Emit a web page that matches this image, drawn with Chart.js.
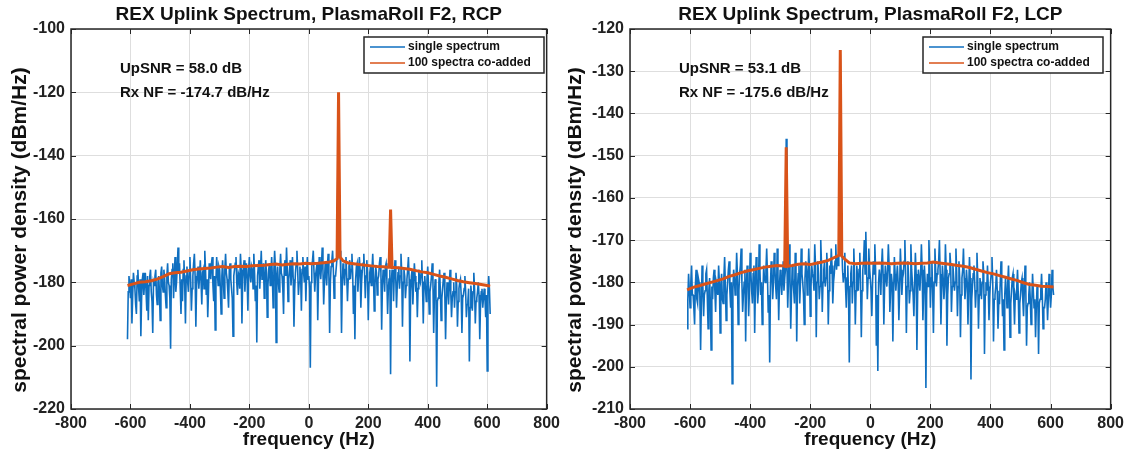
<!DOCTYPE html>
<html>
<head>
<meta charset="utf-8">
<script src="https://cdn.jsdelivr.net/npm/chart.js@4.4.0/dist/chart.umd.min.js"></script>
<style>
  html, body { margin: 0; padding: 0; background: #fff; }
  canvas { position: absolute; top: 0; }
  #rcp { left: 0; }
  #lcp { left: 568px; }
</style>
</head>
<body>
<canvas id="rcp" width="565" height="454" style="width:565px;height:454px"></canvas>
<canvas id="lcp" width="561" height="454" style="width:561px;height:454px"></canvas>
<script>
// single-spectrum bins: -610 Hz .. +610 Hz, 2.5 Hz apart
const binStart = -610;
const binStep = 2.5;

// RCP single spectrum (dBm/Hz), one row = 100 Hz
const rcpSingle = [
  -198, -183, -178, -181, -185, -179, -193, -184, -177, -180, -182, -187, -190, -178, -176, -182, -186, -179, -197, -185, -179, -177, -184, -180, -177, -183, -189, -178, -192, -181, -178, -176, -183, -186, -196, -180, -181, -178, -176, -184,
  -187, -180, -178, -183, -192, -177, -175, -181, -183, -176, -179, -184, -188, -178, -174, -180, -181, -185, -201, -179, -176, -174, -185, -178, -172, -183, -180, -175, -169, -177, -174, -182, -190, -179, -186, -176, -173, -181, -193, -178,
  -175, -180, -183, -177, -172, -179, -189, -182, -178, -174, -171, -178, -194, -181, -177, -175, -182, -178, -173, -180, -187, -177, -176, -182, -170, -176, -184, -179, -191, -183, -174, -177, -179, -174, -172, -181, -186, -178, -195, -180,
  -172, -177, -181, -175, -176, -182, -190, -178, -173, -180, -185, -176, -171, -177, -179, -183, -188, -176, -174, -179, -182, -185, -197, -178, -176, -174, -172, -180, -184, -177, -178, -182, -171, -176, -193, -179, -175, -173, -183, -177,
  -174, -179, -189, -176, -172, -178, -180, -175, -176, -182, -171, -177, -186, -181, -199, -178, -175, -173, -182, -176, -170, -179, -178, -174, -185, -180, -173, -177, -191, -181, -176, -174, -181, -177, -172, -179, -188, -176, -170, -175,
  -199, -178, -175, -180, -183, -176, -171, -177, -178, -182, -190, -175, -173, -178, -169, -176, -186, -179, -176, -173, -181, -177, -172, -179, -194, -182, -177, -174, -170, -176, -184, -180, -175, -178, -189, -176, -172, -177, -180, -175,
  -186, -177, -172, -179, -178, -182, -207, -180, -175, -173, -170, -177, -183, -178, -176, -174, -192, -179, -172, -176, -179, -175, -169, -176, -187, -180, -174, -177, -181, -175, -171, -178, -196, -180, -175, -173, -170, -176, -185, -178,
  -178, -175, -172, -172, -121, -171, -170, -177, -196, -180, -174, -177, -181, -176, -172, -178, -186, -179, -175, -173, -179, -176, -171, -177, -190, -181, -198, -179, -175, -174, -183, -178, -172, -176, -188, -180, -176, -174, -171, -177,
  -185, -178, -173, -177, -192, -180, -177, -175, -181, -176, -171, -178, -189, -181, -175, -177, -184, -179, -178, -174, -172, -177, -195, -181, -176, -178, -183, -175, -174, -179, -190, -182, -179, -176, -209, -180, -176, -178, -186, -177,
  -173, -179, -188, -181, -177, -175, -182, -178, -171, -177, -194, -180, -176, -178, -185, -181, -179, -176, -172, -179, -205, -183, -178, -176, -187, -180, -174, -178, -183, -180, -191, -182, -176, -179, -180, -177, -173, -181, -193, -180,
  -178, -182, -186, -179, -175, -181, -190, -183, -181, -178, -174, -180, -196, -184, -179, -182, -213, -186, -185, -180, -176, -183, -192, -185, -182, -179, -177, -184, -198, -186, -180, -182, -187, -181, -176, -183, -191, -185, -183, -180,
  -188, -183, -177, -181, -194, -186, -182, -180, -179, -184, -196, -185, -184, -182, -178, -183, -191, -187, -186, -182, -205, -188, -181, -184, -189, -183, -177, -182, -193, -186, -185, -183, -180, -184, -198, -187, -183, -182, -188, -185,
  -182, -185, -191, -184, -208, -183, -178, -182, -190
];

// LCP single spectrum (dBm/Hz)
const lcpSingle = [
  -191, -184, -178, -182, -186, -180, -176, -183, -183, -186, -190, -181, -177, -184, -185, -179, -180, -183, -196, -185, -176, -181, -188, -183, -182, -178, -177, -184, -191, -182, -179, -185, -196, -181, -184, -179, -177, -182, -187, -180,
  -181, -183, -176, -180, -192, -181, -178, -184, -185, -179, -174, -181, -189, -183, -180, -177, -175, -182, -186, -180, -204, -182, -177, -179, -183, -181, -173, -178, -190, -182, -178, -176, -172, -180, -187, -183, -180, -177, -194, -181,
  -176, -180, -188, -182, -173, -178, -182, -185, -178, -176, -192, -181, -174, -179, -185, -182, -171, -177, -183, -180, -190, -183, -176, -179, -180, -177, -172, -178, -187, -183, -199, -181, -175, -178, -184, -180, -173, -177, -181, -184,
  -172, -178, -189, -181, -177, -180, -183, -179, -175, -182, -179, -177, -146, -176, -186, -180, -171, -178, -191, -183, -176, -179, -182, -185, -173, -177, -194, -181, -178, -176, -185, -180, -172, -178, -180, -183, -190, -179, -175, -177,
  -183, -179, -172, -177, -188, -181, -176, -178, -179, -182, -171, -176, -193, -180, -175, -178, -184, -181, -170, -176, -187, -180, -177, -175, -181, -179, -173, -177, -190, -182, -176, -178, -172, -176, -185, -180, -178, -175, -171, -177,
  -174, -176, -172, -173, -126, -172, -171, -177, -180, -178, -173, -181, -186, -179, -176, -183, -199, -181, -178, -176, -185, -180, -172, -178, -190, -182, -176, -179, -182, -177, -173, -180, -193, -182, -177, -175, -170, -178, -168, -176,
  -184, -179, -172, -177, -179, -182, -188, -180, -175, -178, -171, -177, -195, -183, -201, -180, -177, -179, -183, -176, -172, -178, -190, -181, -176, -179, -181, -177, -171, -176, -187, -182, -178, -180, -194, -183, -174, -178, -182, -179,
  -176, -180, -189, -182, -172, -177, -183, -179, -178, -175, -170, -178, -192, -181, -175, -179, -185, -182, -171, -177, -180, -183, -188, -180, -173, -178, -196, -183, -177, -179, -182, -178, -171, -177, -189, -182, -176, -180, -205, -183,
  -178, -181, -170, -176, -186, -179, -175, -182, -192, -180, -172, -177, -181, -178, -177, -175, -170, -178, -190, -182, -176, -179, -184, -181, -171, -177, -195, -183, -179, -178, -173, -176, -187, -181, -176, -179, -182, -180, -172, -178,
  -188, -181, -175, -179, -193, -183, -179, -177, -172, -179, -184, -181, -177, -180, -190, -182, -174, -179, -203, -184, -181, -178, -176, -180, -186, -182, -173, -179, -191, -183, -179, -181, -184, -180, -175, -178, -197, -183, -180, -182,
  -176, -181, -189, -183, -180, -178, -174, -180, -194, -184, -183, -181, -177, -182, -191, -185, -185, -180, -175, -181, -188, -184, -196, -183, -179, -182, -186, -180, -176, -183, -193, -185, -182, -179, -178, -184, -190, -183, -184, -181,
  -177, -183, -192, -185, -183, -180, -179, -184, -188, -182, -176, -181, -195, -186, -185, -183, -180, -184, -190, -185, -178, -182, -186, -184, -193, -186, -181, -183, -197, -185, -184, -182, -178, -183, -191, -186, -186, -184, -180, -183,
  -189, -184, -178, -182, -186, -183, -177, -181, -183
];

// 100 spectra co-added
const rcpAvgFreq = [-610, -590, -570, -550, -530, -510, -490, -470, -450, -430, -410, -390, -370, -350, -330, -310, -290, -270, -250, -230,
  -210, -190, -170, -150, -130, -110, -90, -70, -50, -30, -10, 10, 30, 50, 70, 85, 95, 100, 105, 115,
  130, 150, 170, 190, 210, 230, 250, 265, 270, 275, 280, 285, 300, 320, 340, 360, 380, 400, 420, 440,
  460, 480, 500, 520, 540, 560, 580, 600, 610];
const rcpAvg = [-181, -180.5, -180, -179.8, -179.5, -179, -178.2, -177.3, -177, -176.8, -176.4, -176, -175.8, -175.6, -175.5, -175.2, -175, -175.3, -175, -174.9,
  -175, -174.8, -174.7, -174.6, -174.4, -174.2, -174.5, -174.3, -174.1, -174.2, -174, -174.1, -174, -173.8, -173.6, -173.2, -172.5, -120, -172, -173.2,
  -173.8, -174.1, -174.4, -174.6, -174.8, -175, -175.1, -175.2, -175.2, -157, -175.3, -175.3, -175.4, -175.6, -175.9, -176.3, -176.7, -177, -177.5, -178,
  -178.4, -178.9, -179.4, -179.8, -180.1, -180.4, -180.7, -181, -181.2];

const lcpAvgFreq = [-610, -590, -570, -550, -530, -510, -490, -470, -450, -430, -410, -390, -370, -350, -330, -310, -290, -285, -280, -275,
  -260, -240, -220, -200, -180, -160, -140, -125, -110, -105, -100, -95, -85, -70, -50, -30, -10, 10, 30, 50,
  70, 90, 110, 130, 150, 170, 190, 210, 230, 250, 270, 290, 310, 330, 350, 370, 390, 410, 430, 450,
  470, 490, 510, 530, 550, 570, 590, 610];
const lcpAvg = [-181.8, -181.2, -180.8, -180.4, -180, -179.6, -179.2, -178.6, -178.2, -177.7, -177.3, -177, -176.7, -176.4, -176.2, -176, -176.1, -176.2, -148, -176.2,
  -176, -175.7, -175.6, -175.8, -175.5, -175.2, -174.8, -174.3, -173.8, -173.6, -125, -173.8, -174.5, -175.4, -175.6, -175.5, -175.4, -175.5, -175.4, -175.5,
  -175.6, -175.5, -175.4, -175.5, -175.6, -175.5, -175.4, -175.2, -175.4, -175.6, -175.8, -176, -176.2, -176.5, -176.9, -177.3, -177.7, -178, -178.4, -178.8,
  -179.2, -179.6, -180.1, -180.5, -180.7, -180.9, -181, -181.1];

const xTicks = [-800, -600, -400, -200, 0, 200, 400, 600, 800];
const rcpYTicks = [-220, -200, -180, -160, -140, -120, -100];
const lcpYTicks = [-210, -200, -190, -180, -170, -160, -150, -140, -130, -120];

const BLUE = '#0f6fc0';
const ORANGE = '#D95319';
const AXIS = '#262626';
const GRID = '#dedede';
const FONT = "'Liberation Sans', Arial, Helvetica, sans-serif";

function toPoints(xs, ys) {
  return ys.map((y, i) => ({ x: xs[i], y: y }));
}

function binPoints(ys) {
  return ys.map((y, i) => ({ x: binStart + i * binStep, y: y }));
}

function makePanel(id, opts) {
  const deco = {
    id: 'deco_' + id,
    afterDraw(chart) {
      const ctx = chart.ctx;
      const a = chart.chartArea;
      const xs = chart.scales.x;
      const ys = chart.scales.y;
      ctx.save();

      // box + inward ticks, matlab style
      ctx.strokeStyle = AXIS;
      ctx.lineWidth = 1.5;
      ctx.strokeRect(a.left, a.top, a.right - a.left, a.bottom - a.top);
      ctx.lineWidth = 1;
      ctx.beginPath();
      xTicks.forEach(v => {
        const px = Math.round(xs.getPixelForValue(v)) + 0.5;
        ctx.moveTo(px, a.bottom); ctx.lineTo(px, a.bottom - 5);
        ctx.moveTo(px, a.top); ctx.lineTo(px, a.top + 5);
      });
      opts.yTicks.forEach(v => {
        const py = Math.round(ys.getPixelForValue(v)) + 0.5;
        ctx.moveTo(a.left, py); ctx.lineTo(a.left + 5, py);
        ctx.moveTo(a.right, py); ctx.lineTo(a.right - 5, py);
      });
      ctx.stroke();

      const cx = (a.left + a.right) / 2;
      ctx.fillStyle = '#111';
      ctx.textAlign = 'center';
      ctx.textBaseline = 'middle';
      ctx.font = 'bold 19px ' + FONT;
      ctx.fillText(opts.title, cx, 15);
      ctx.fillText('frequency (Hz)', cx, 440);

      ctx.save();
      ctx.translate(opts.yLabelX, 230);
      ctx.rotate(-Math.PI / 2);
      ctx.textBaseline = 'alphabetic';
      ctx.font = 'bold 21px ' + FONT;
      ctx.fillText('spectral power density (dBm/Hz)', 0, 0);
      ctx.restore();

      // annotations
      ctx.textAlign = 'left';
      ctx.font = 'bold 15px ' + FONT;
      ctx.fillText(opts.snr, a.left + 49, 69);
      ctx.fillText(opts.nf, a.left + 49, 93);

      // legend
      const lx = a.left + 293, ly = 37, lw = 180, lh = 36;
      ctx.fillStyle = '#fff';
      ctx.fillRect(lx, ly, lw, lh);
      ctx.strokeStyle = AXIS;
      ctx.lineWidth = 1.5;
      ctx.strokeRect(lx, ly, lw, lh);
      ctx.lineWidth = 1.5;
      ctx.strokeStyle = BLUE;
      ctx.beginPath(); ctx.moveTo(lx + 6, ly + 10); ctx.lineTo(lx + 41, ly + 10); ctx.stroke();
      ctx.strokeStyle = ORANGE;
      ctx.beginPath(); ctx.moveTo(lx + 6, ly + 26); ctx.lineTo(lx + 41, ly + 26); ctx.stroke();
      ctx.fillStyle = '#111';
      ctx.font = 'bold 12px ' + FONT;
      ctx.fillText('single spectrum', lx + 44, ly + 10);
      ctx.fillText('100 spectra co-added', lx + 44, ly + 26);

      ctx.restore();
    }
  };

  return new Chart(document.getElementById(id), {
    type: 'line',
    data: {
      datasets: [
        {
          label: '100 spectra co-added',
          data: toPoints(opts.avgFreq, opts.avg),
          borderColor: ORANGE,
          borderWidth: 3,
          pointRadius: 0,
          tension: 0,
          order: 0
        },
        {
          label: 'single spectrum',
          data: binPoints(opts.single),
          borderColor: BLUE,
          borderWidth: 1.6,
          pointRadius: 0,
          tension: 0,
          order: 1
        }
      ]
    },
    options: {
      responsive: false,
      animation: false,
      devicePixelRatio: 1,
      layout: { padding: { left: 0, top: 29, right: opts.padRight, bottom: 0 } },
      plugins: { legend: { display: false }, tooltip: { enabled: false } },
      scales: {
        x: {
          type: 'linear',
          min: -800,
          max: 800,
          afterFit(s) { s.height = 45; },
          afterBuildTicks(s) { s.ticks = xTicks.map(v => ({ value: v })); },
          ticks: { padding: 5, maxRotation: 0, autoSkip: false, color: '#222', font: { family: FONT, size: 16, weight: 'bold' } },
          grid: { color: GRID, drawTicks: false },
          border: { display: false }
        },
        y: {
          type: 'linear',
          min: opts.yTicks[0],
          max: opts.yTicks[opts.yTicks.length - 1],
          afterFit(s) { s.width = opts.yWidth; },
          afterBuildTicks(s) { s.ticks = opts.yTicks.map(v => ({ value: v })); },
          ticks: { padding: 6, autoSkip: false, color: '#222', font: { family: FONT, size: 16, weight: 'bold' } },
          grid: { color: GRID, drawTicks: false },
          border: { display: false }
        }
      }
    },
    plugins: [deco]
  });
}

makePanel('rcp', {
  title: 'REX Uplink Spectrum, PlasmaRoll F2, RCP',
  snr: 'UpSNR = 58.0 dB',
  nf: 'Rx NF = -174.7 dB/Hz',
  single: rcpSingle,
  avgFreq: rcpAvgFreq,
  avg: rcpAvg,
  yTicks: rcpYTicks,
  yWidth: 71,
  padRight: 12,
  yLabelX: 26
});

makePanel('lcp', {
  title: 'REX Uplink Spectrum, PlasmaRoll F2, LCP',
  snr: 'UpSNR = 53.1 dB',
  nf: 'Rx NF = -175.6 dB/Hz',
  single: lcpSingle,
  avgFreq: lcpAvgFreq,
  avg: lcpAvg,
  yTicks: lcpYTicks,
  yWidth: 62,
  padRight: 16,
  yLabelX: 13
});
</script>
</body>
</html>
